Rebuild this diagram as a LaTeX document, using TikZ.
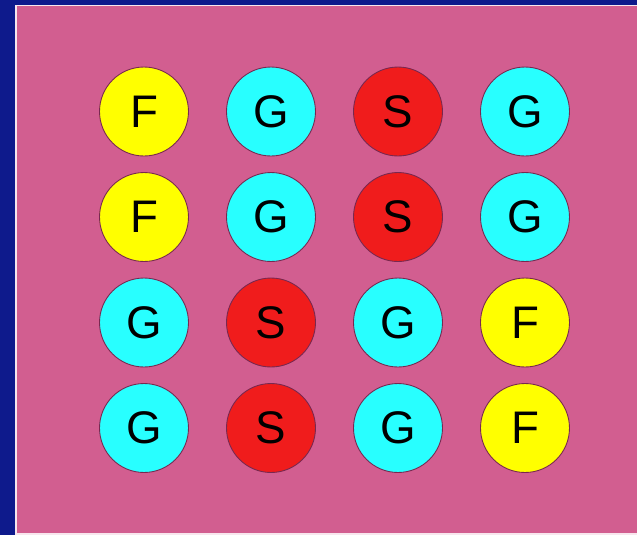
\documentclass[tikz,border=0pt]{standalone}
\usepackage{fontspec}
\setmainfont{Liberation Sans}
\definecolor{navy}{RGB}{14,26,140}
\definecolor{board}{RGB}{210,94,144}
\definecolor{ballF}{RGB}{255,255,0}
\definecolor{ballG}{RGB}{40,255,255}
\definecolor{ballS}{RGB}{240,28,28}
\definecolor{rim}{RGB}{120,40,80}
\tikzset{
  ball/.style={circle, draw=rim, line width=0.5pt, minimum size=1.78cm, inner sep=0pt, font=\fontsize{26}{26}\selectfont},
  ballF/.style={ball, fill=ballF},
  ballG/.style={ball, fill=ballG},
  ballS/.style={ball, fill=ballS}
}
\begin{document}
\begin{tikzpicture}[x=0.02cm, y=-0.02cm]
  \fill[navy] (0,0) rectangle (637,535);
  \useasboundingbox (0,0) rectangle (637,535);
  \draw[white!85!board, fill=board, line width=1pt] (16,5.5) rectangle (640,534);
  % rows top to bottom
  \foreach \row/\kinds in {1/{F,G,S,G},2/{F,G,S,G},3/{G,S,G,F},4/{G,S,G,F}} {
    \foreach \kind [count=\col] in \kinds {
      \node[ball\kind] (ball-\row-\col) at ({144+127*(\col-1)}, {111.5+105.5*(\row-1)}) {\kind};
    }
  }
\end{tikzpicture}
\end{document}
